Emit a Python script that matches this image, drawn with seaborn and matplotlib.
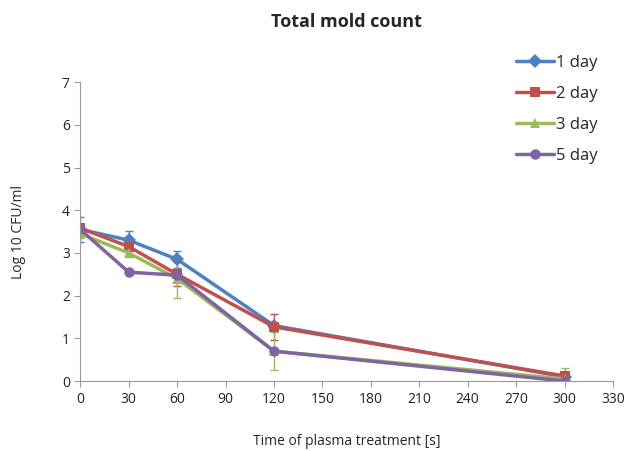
import numpy as np
import pandas as pd
import seaborn as sns
import matplotlib.pyplot as plt

times = [0, 30, 60, 120, 300]
series = ['1 day', '2 day', '3 day', '5 day']
day1 = [3.55, 3.30, 2.85, 1.30, 0.10]
day2 = [3.58, 3.15, 2.50, 1.27, 0.12]
day3 = [3.45, 3.00, 2.40, 0.70, 0.05]
day5 = [3.55, 2.55, 2.48, 0.70, 0.00]
err1 = [0.30, 0.22, 0.20, 0.05, 0.05]
err2 = [0.05, 0.10, 0.28, 0.30, 0.08]
err3 = [0.10, 0.10, 0.45, 0.45, 0.25]
err5 = [0.05, 0.05, 0.05, 0.05, 0.05]

colors = ['#4F81BD', '#C0504D', '#9BBB59', '#8064A2']
markers = ['D', 's', '^', 'o']

rows = []
for name, vals, errs in zip(series, [day1, day2, day3, day5], [err1, err2, err3, err5]):
    for t, v, e in zip(times, vals, errs):
        rows.append({'time': t, 'value': v, 'err': e, 'day': name})
dados = pd.DataFrame(rows)

sns.set_style('white')
plt.rcParams['font.family'] = ['Open Sans', 'DejaVu Sans']

fig = plt.figure(figsize=(6.32, 4.51), dpi=100)
ax = fig.add_axes([0.127, 0.155, 0.843, 0.663])

for name, c in zip(series, colors):
    d = dados[dados['day'] == name]
    ax.errorbar(d['time'], d['value'], yerr=d['err'], fmt='none', ecolor=c,
                elinewidth=1, capsize=3, capthick=1, zorder=1)

sns.lineplot(data=dados, x='time', y='value', hue='day', style='day',
             palette=colors, markers=markers, dashes=False, linewidth=2.5,
             markersize=7.5, markeredgewidth=0, ax=ax, zorder=2)

ax.set_xlim(0, 330)
ax.set_ylim(0, 7)
ax.set_xticks(range(0, 331, 30))
ax.set_yticks(range(0, 8))
ax.tick_params(axis='both', labelsize=10, colors='#222222', length=4,
               direction='out', color='#999999', bottom=True, left=True)
for s in ['top', 'right']:
    ax.spines[s].set_visible(False)
for s in ['left', 'bottom']:
    ax.spines[s].set_color('#999999')
ax.set_xlabel('Time of plasma treatment [s]', fontsize=10, labelpad=20)
ax.set_ylabel('Log 10 CFU/ml', fontsize=10, labelpad=26)
ax.set_title('Total mold count', fontsize=13, fontweight='bold', pad=40)

leg = ax.legend(loc='upper left', bbox_to_anchor=(0.79, 1.14), frameon=False,
                fontsize=12, handlelength=2.3, handletextpad=0.1,
                labelspacing=0.9, title=None)

fig.savefig('out.png', dpi=100)
